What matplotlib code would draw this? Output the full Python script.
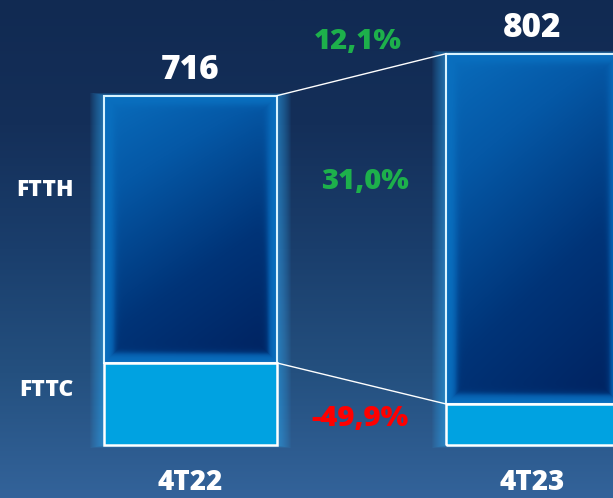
import numpy as np
import matplotlib.pyplot as plt
from matplotlib.patches import Rectangle
from matplotlib.colors import LinearSegmentedColormap

# data
periods = ['4T22', '4T23']
ftth = [548, 718]
fttc = [168, 84]
totals = [716, 802]
ftth_growth = '31,0%'
fttc_growth = '-49,9%'
total_growth = '12,1%'

FONT = 'Open Sans'
WIDTH = 0.506

fig = plt.figure(figsize=(6.13, 4.98), dpi=100)
ax = fig.add_axes([0, 0, 1, 1])
ax.set_xlim(-0.557, 1.235)
ax.set_ylim(-108.7, 912)
ax.axis('off')

# background gradient
bg = LinearSegmentedColormap.from_list('bg', ['#33639a', '#24507f', '#1a3e6c', '#142f59', '#112a52'])
grad = np.linspace(0, 1, 256).reshape(-1, 1)
ax.imshow(grad, cmap=bg, aspect='auto', extent=(-0.557, 1.235, -108.7, 912),
          origin='lower', zorder=0)

bar_cmap = LinearSegmentedColormap.from_list('bar', ['#00215e', '#003478', '#0558a6', '#0a72c2', '#1282cc'])


def ftth_shade(h_units):
    # roughly one array cell per pixel
    nx = 173
    ny = int(h_units / 2.05)
    yy, xx = np.mgrid[0:ny, 0:nx]
    fx = xx / (nx - 1)
    fy = yy / (ny - 1)
    # diagonal gradient, light top-left to dark bottom-right
    base = 0.72 - 0.6 * (0.35 * fx + 0.65 * fy) - 0.12 * np.sqrt(fy)
    # light band along the edges
    d = np.minimum.reduce([xx, nx - 1 - xx, yy, ny - 1 - yy]).astype(float)
    band = 1 / (1 + np.exp((d - 9) / 2.0))
    return base * (1 - band) + 0.72 * band


x = np.arange(len(periods))
for i in range(len(periods)):
    left = x[i] - WIDTH / 2
    # soft glow around the bar
    for k in np.linspace(0.003, 0.04, 14):
        ax.add_patch(Rectangle((left - k, -k * 150), WIDTH + 2 * k, totals[i] + 2 * k * 150,
                               facecolor='#3ab4ff', edgecolor='none', alpha=0.05, zorder=1))
    ax.bar(x[i], fttc[i], WIDTH, color='#00a2e1', edgecolor='none', zorder=3)
    ftth_bar = ax.bar(x[i], ftth[i], WIDTH, bottom=fttc[i], color='#0050a0',
                      edgecolor='none', zorder=3)
    img = ax.imshow(ftth_shade(ftth[i]), cmap=bar_cmap, aspect='auto', vmin=0, vmax=1,
                    origin='upper', extent=(left, left + WIDTH, fttc[i], totals[i]),
                    zorder=3.5, interpolation='bilinear')
    img.set_clip_path(ftth_bar.patches[0])
    ax.add_patch(Rectangle((left, fttc[i]), WIDTH, ftth[i], fill=False,
                           edgecolor='#d8f3ff', linewidth=1.5, zorder=4))
    ax.add_patch(Rectangle((left, 0), WIDTH, fttc[i], fill=False,
                           edgecolor='white', linewidth=1.8, zorder=4))
    ax.annotate(str(totals[i]), (x[i], totals[i]), xytext=(0, 6), textcoords='offset points',
                ha='center', va='bottom', color='white', fontsize=24, fontweight='heavy',
                family=FONT, zorder=5)
    ax.text(x[i], -76, periods[i], ha='center', va='center', color='white',
            fontsize=20, fontweight='heavy', family=FONT, zorder=5)

# connector lines
ax.plot([x[0] + WIDTH / 2, x[1] - WIDTH / 2], [totals[0], totals[1]], color='white', lw=1, zorder=4)
ax.plot([x[0] + WIDTH / 2, x[1] - WIDTH / 2], [fttc[0], fttc[1]], color='white', lw=1, zorder=4)

# growth labels
ax.text(0.49, 826, total_growth, ha='center', va='center', color='#1db04b',
        fontsize=21, fontweight='heavy', family=FONT, zorder=5)
ax.text(0.51, 539, ftth_growth, ha='center', va='center', color='#1db04b',
        fontsize=21, fontweight='heavy', family=FONT, zorder=5)
ax.text(0.495, 55, fttc_growth, ha='center', va='center', color='#ff0000',
        fontsize=21, fontweight='heavy', family=FONT, zorder=5)

# segment labels
ax.text(-0.425, 523, 'FTTH', ha='center', va='center', color='white',
        fontsize=16.5, fontweight='heavy', family=FONT, zorder=5)
ax.text(-0.42, 113, 'FTTC', ha='center', va='center', color='white',
        fontsize=16.5, fontweight='heavy', family=FONT, zorder=5)

fig.savefig('out.png', dpi=100)
